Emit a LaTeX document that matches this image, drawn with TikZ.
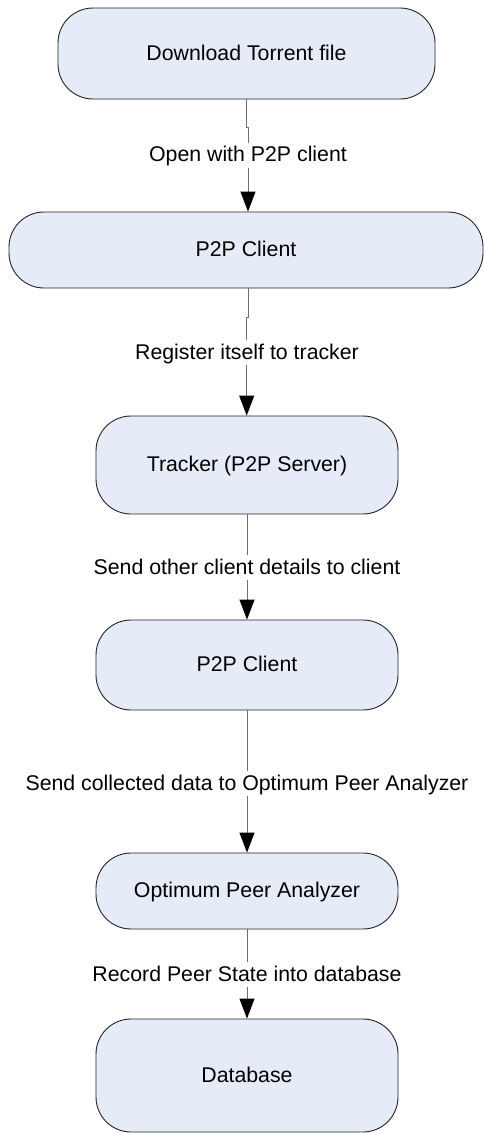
\documentclass[tikz,border=0pt]{standalone}
\usepackage{fontspec}
\setmainfont{Liberation Sans}
\usetikzlibrary{arrows.meta}
\definecolor{boxfill}{RGB}{230,236,247}
\definecolor{boxline}{RGB}{35,35,35}
\definecolor{flowline}{RGB}{110,110,110}
\tikzset{
  stage/.style={draw=boxline, line width=0.9pt, fill=boxfill, rectangle,
    rounded corners=35pt, inner sep=0pt,
    font=\fontsize{21.3}{25}\selectfont, text height=15pt, text depth=2pt},
  lbl/.style={fill=white, inner xsep=3pt, inner ysep=4pt,
    font=\fontsize{21.3}{25}\selectfont, text height=15pt, text depth=2pt},
  flow/.style={draw=flowline, line width=0.9pt,
    -{Triangle[length=20pt,width=15pt,color=black]}}
}
\begin{document}
\begin{tikzpicture}[x=1pt,y=-1pt]
\useasboundingbox (0,0) rectangle (484,1133);

% process stages
\node[stage, minimum width=377pt, minimum height=91pt]  (b1) at (246.5,53.5)  {Download Torrent file};
\node[stage, minimum width=474pt, minimum height=76pt]  (b2) at (246,250)     {P2P Client};
\node[stage, minimum width=302pt, minimum height=98pt]  (b3) at (247,465)     {Tracker (P2P Server)};
\node[stage, minimum width=302pt, minimum height=90pt]  (b4) at (247,665)     {P2P Client};
\node[stage, minimum width=302pt, minimum height=76pt]  (b5) at (247,891)     {Optimum Peer Analyzer};
\node[stage, minimum width=302pt, minimum height=113pt] (b6) at (247,1075.5)  {Database};

% bends in the first two connectors
\coordinate (j1a) at (246.5,127);
\coordinate (j1b) at (248,127);
\coordinate (j2a) at (248,317);
\coordinate (j2b) at (246.7,317);

% connectors
\draw[flow] (j1a |- b1.south) -- (j1a) -- (j1b) -- (j1b |- b2.north);
\draw[flow] (j2a |- b2.south) -- (j2a) -- (j2b) -- (j2b |- b3.north);
\draw[flow] (b3.south) -- (b4.north);
\draw[flow] (b4.south) -- (b5.north);
\draw[flow] (b5.south) -- (b6.north);

% connector labels
\node[lbl] (l1) at (248,155.2) {Open with P2P client};
\node[lbl] (l2) at (247,352.5) {Register itself to tracker};
\node[lbl] (l3) at (247,567.5) {Send other client details to client};
\node[lbl] (l4) at (247,783.5) {Send collected data to Optimum Peer Analyzer};
\node[lbl] (l5) at (247,974.5) {Record Peer State into database};
\end{tikzpicture}
\end{document}
